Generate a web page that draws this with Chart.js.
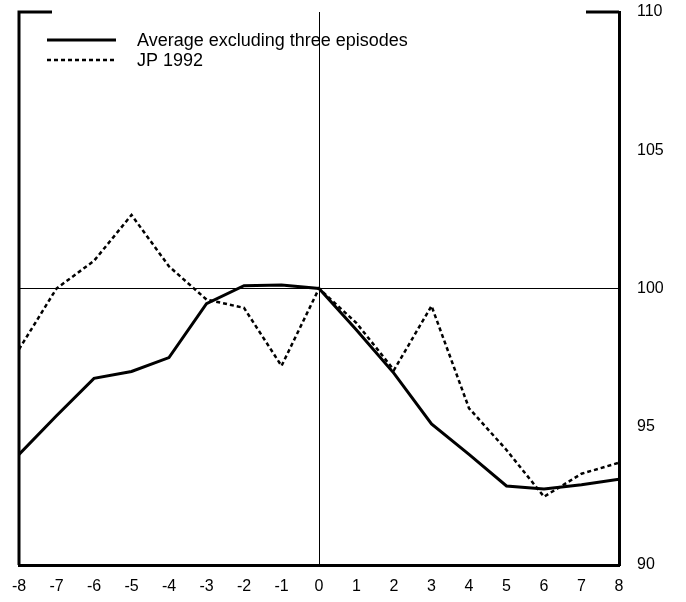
<!DOCTYPE html>
<html>
<head>
<meta charset="utf-8">
<script src="https://cdn.jsdelivr.net/npm/chart.js@4.4.0/dist/chart.umd.min.js"></script>
<style>
  html, body { margin: 0; padding: 0; background: #fff; }
  #wrap { width: 686px; height: 602px; }
</style>
</head>
<body>
<div id="wrap"><canvas id="chart" width="686" height="602"></canvas></div>
<script>
const quarters = [-8, -7, -6, -5, -4, -3, -2, -1, 0, 1, 2, 3, 4, 5, 6, 7, 8];
const averageValues = [94.0, 95.4, 96.75, 97.0, 97.5, 99.45, 100.1, 100.13, 100.0, 98.5, 96.93, 95.1, 94.0, 92.86, 92.75, 92.9, 93.1];
const jp1992Values = [97.8, 100.0, 101.0, 102.66, 100.8, 99.6, 99.3, 97.2, 100.0, 98.75, 97.05, 99.37, 95.67, 94.16, 92.47, 93.3, 93.7];
const seriesNames = ['Average excluding three episodes', 'JP 1992'];

const fontFamily = '"Liberation Sans", Arial, sans-serif';

// left axis + short top caps, and legend inside the plot
const framePlugin = {
    id: 'frame',
    afterDraw(chart) {
        const ctx = chart.ctx;
        const area = chart.chartArea;
        ctx.save();
        ctx.strokeStyle = '#000';
        ctx.lineWidth = 3;
        ctx.beginPath();
        ctx.moveTo(area.left, area.bottom);
        ctx.lineTo(area.left, area.top);
        ctx.lineTo(area.left + 33, area.top);
        ctx.moveTo(area.right - 33, area.top);
        ctx.lineTo(area.right, area.top);
        ctx.stroke();

        // legend
        ctx.font = '18px ' + fontFamily;
        ctx.textBaseline = 'middle';
        ctx.fillStyle = '#000';
        chart.data.datasets.forEach((ds, i) => {
            const y = 40 + i * 20;
            ctx.beginPath();
            ctx.lineWidth = ds.borderWidth;
            ctx.setLineDash(ds.borderDash || []);
            ctx.moveTo(47, y);
            ctx.lineTo(116, y);
            ctx.stroke();
            ctx.setLineDash([]);
            ctx.fillText(ds.label, 137, y + 1);
        });
        ctx.restore();
    }
};

new Chart(document.getElementById('chart'), {
    type: 'line',
    data: {
        labels: quarters,
        datasets: [
            {
                label: seriesNames[0],
                data: quarters.map((q, i) => ({ x: q, y: averageValues[i] })),
                borderColor: '#000',
                borderWidth: 3,
                pointRadius: 0,
                tension: 0,
                fill: false
            },
            {
                label: seriesNames[1],
                data: quarters.map((q, i) => ({ x: q, y: jp1992Values[i] })),
                borderColor: '#000',
                borderWidth: 2.5,
                borderDash: [4, 3],
                pointRadius: 0,
                tension: 0,
                fill: false
            }
        ]
    },
    options: {
        responsive: false,
        animation: false,
        layout: { padding: { left: 19, top: 12, right: 0, bottom: 0 } },
        plugins: {
            legend: { display: false },
            tooltip: { enabled: false }
        },
        scales: {
            x: {
                type: 'linear',
                min: -8,
                max: 8,
                position: 'bottom',
                grid: {
                    drawTicks: false,
                    color: ctx => ctx.tick && ctx.tick.value === 0 ? '#000' : 'rgba(0,0,0,0)',
                    lineWidth: 1
                },
                border: { display: true, color: '#000', width: 3 },
                ticks: {
                    stepSize: 1,
                    padding: 12,
                    color: '#000',
                    font: { family: fontFamily, size: 16 },
                    maxRotation: 0,
                    autoSkip: false
                },
                afterFit: scale => {
                    scale.height = 37;
                    scale.paddingLeft = 0;
                    scale.paddingRight = 0;
                }
            },
            y: {
                type: 'linear',
                min: 90,
                max: 110,
                position: 'right',
                grid: {
                    drawTicks: false,
                    color: ctx => ctx.tick && ctx.tick.value === 100 ? '#000' : 'rgba(0,0,0,0)',
                    lineWidth: 1
                },
                border: { display: true, color: '#000', width: 3 },
                ticks: {
                    stepSize: 5,
                    padding: 18,
                    color: '#000',
                    font: { family: fontFamily, size: 16 }
                },
                afterFit: scale => {
                    scale.width = 67;
                    scale.paddingTop = 0;
                    scale.paddingBottom = 0;
                }
            }
        }
    },
    plugins: [framePlugin]
});
</script>
</body>
</html>
